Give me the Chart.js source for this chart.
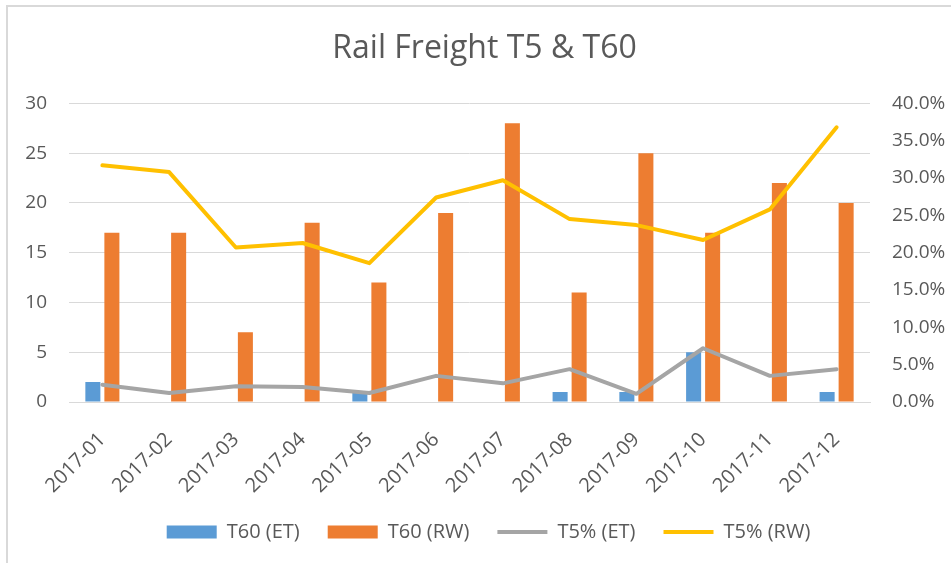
<!DOCTYPE html>
<html>
<head>
<meta charset="utf-8">
<script src="https://cdn.jsdelivr.net/npm/chart.js@4.4.1/dist/chart.umd.min.js"></script>
<style>
  html, body { margin: 0; padding: 0; background: #ffffff; }
  #wrap { position: relative; width: 951px; height: 563px; overflow: hidden; }
  #frame { position: absolute; left: 6px; top: 5px; width: 1000px; height: 1000px; border: 2px solid #D9D9D9; box-sizing: border-box; }
  canvas { position: absolute; left: 0; top: 0; }
</style>
</head>
<body>
<div id="wrap">
  <div id="frame"></div>
  <canvas id="c" width="951" height="563"></canvas>
</div>
<script>
const categories = ['2017-01','2017-02','2017-03','2017-04','2017-05','2017-06','2017-07','2017-08','2017-09','2017-10','2017-11','2017-12'];
const t60ET = [2, 0, 0, 0, 1, 0, 0, 1, 1, 5, 0, 1];
const t60RW = [17, 17, 7, 18, 12, 19, 28, 11, 25, 17, 22, 20];
const t5ET = [0.023, 0.012, 0.021, 0.020, 0.012, 0.035, 0.025, 0.044, 0.011, 0.072, 0.035, 0.044];
const t5RW = [0.317, 0.308, 0.207, 0.213, 0.186, 0.274, 0.297, 0.245, 0.237, 0.217, 0.258, 0.368];

const FONT = "'Open Sans', sans-serif";
const TXT = '#595959';

// Excel centres the title/legend on a frame wider than the visible crop
const shiftPlugin = {
  id: 'shiftBoxes',
  afterLayout(chart) {
    if (chart.titleBlock) { chart.titleBlock.left += 9; chart.titleBlock.right += 9; }
    if (chart.legend) { chart.legend.left += 13; chart.legend.right += 13; }
  }
};

new Chart(document.getElementById('c'), {
  data: {
    labels: categories,
    datasets: [
      { type: 'line', label: 'T5% (ET)', data: t5ET, yAxisID: 'y1', borderColor: '#A5A5A5', backgroundColor: '#A5A5A5',
        borderWidth: 4, pointRadius: 0, pointHoverRadius: 0, tension: 0, borderCapStyle: 'round', borderJoinStyle: 'round', pointStyle: 'line', order: 1 },
      { type: 'line', label: 'T5% (RW)', data: t5RW, yAxisID: 'y1', borderColor: '#FFC000', backgroundColor: '#FFC000',
        borderWidth: 4, pointRadius: 0, pointHoverRadius: 0, tension: 0, borderCapStyle: 'round', borderJoinStyle: 'round', pointStyle: 'line', order: 0 },
      { type: 'bar', label: 'T60 (ET)', data: t60ET, yAxisID: 'y', backgroundColor: '#5B9BD5', borderWidth: 0,
        categoryPercentage: 0.57, barPercentage: 0.79, pointStyle: 'rect', order: 2 },
      { type: 'bar', label: 'T60 (RW)', data: t60RW, yAxisID: 'y', backgroundColor: '#ED7D31', borderWidth: 0,
        categoryPercentage: 0.57, barPercentage: 0.79, pointStyle: 'rect', order: 3 }
    ]
  },
  plugins: [shiftPlugin],
  options: {
    responsive: false,
    animation: false,
    layout: { padding: { left: 0, right: 0, top: 0, bottom: 11 } },
    plugins: {
      title: { display: true, text: 'Rail Freight T5 & T60', color: TXT,
        font: { family: FONT, size: 32, weight: 'normal' }, padding: { top: 30, bottom: 35 } },
      legend: {
        position: 'bottom',
        labels: {
          color: TXT, font: { family: FONT, size: 20 }, usePointStyle: true, pointStyleWidth: 50,
          boxWidth: 50, boxHeight: 13, padding: 28,
          sort: (a, b) => {
            const ord = ['T60 (ET)','T60 (RW)','T5% (ET)','T5% (RW)'];
            return ord.indexOf(a.text) - ord.indexOf(b.text);
          }
        }
      },
      tooltip: { enabled: false }
    },
    scales: {
      x: {
        offset: true,
        grid: { display: false, drawTicks: false },
        border: { display: true, color: '#D9D9D9', width: 1 },
        ticks: { color: TXT, font: { family: FONT, size: 20 }, minRotation: 45, maxRotation: 45, padding: 26, autoSkip: false },
        afterFit: (s) => { s.height = 92; }
      },
      y: {
        position: 'left', min: 0, max: 30, 
        ticks: { stepSize: 5, color: TXT, font: { family: FONT, size: 19 }, padding: 22 },
        grid: { color: '#D9D9D9', lineWidth: 1, drawTicks: false },
        border: { display: false },
        afterFit: (s) => { s.width = 69; }
      },
      y1: {
        position: 'right', min: 0, max: 0.4,
        ticks: { stepSize: 0.05, color: TXT, font: { family: FONT, size: 19 }, padding: 22,
          callback: (v) => (v * 100).toFixed(1) + '%' },
        grid: { display: false, drawTicks: false },
        border: { display: false },
        afterFit: (s) => { s.width = 81; }
      }
    }
  }
});
</script>
</body>
</html>
